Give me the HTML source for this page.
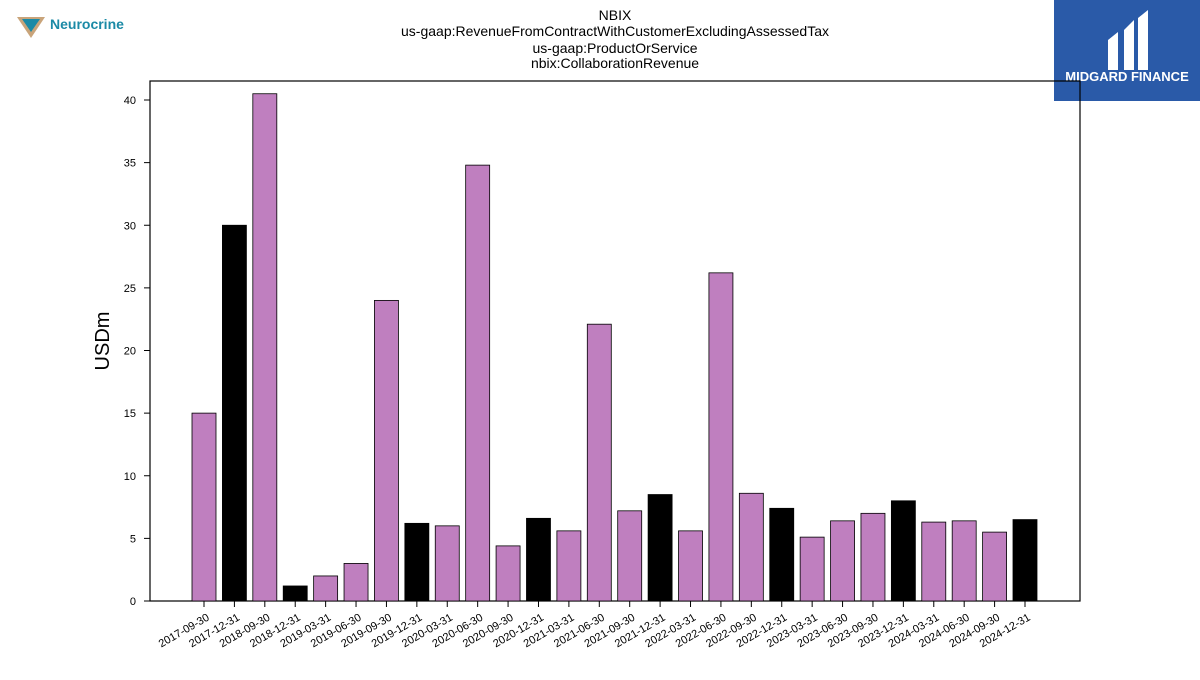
<!DOCTYPE html>
<html><head><meta charset="utf-8"><style>
body{margin:0;background:#fff;width:1200px;height:675px;overflow:hidden;font-family:"Liberation Sans",sans-serif}
</style></head><body>
<svg width="1200" height="675" xmlns="http://www.w3.org/2000/svg">
<g>
<polygon points="17,17 45,17 31,38" fill="#c9a47a"/>
<polygon points="22,19 40,19 31,32" fill="#1b8aa6"/>
<text x="50" y="29" font-size="14" font-weight="bold" fill="#1b8aa6" font-family="Liberation Sans, sans-serif">Neurocrine</text>
</g>
<g font-size="14" text-anchor="middle" fill="#000">
<text x="615" y="20">NBIX</text>
<text x="615" y="36">us-gaap:RevenueFromContractWithCustomerExcludingAssessedTax</text>
<text x="615" y="53">us-gaap:ProductOrService</text>
<text x="615" y="68">nbix:CollaborationRevenue</text>
</g>
<g>
<rect x="1054" y="0" width="146" height="101" fill="#2a5aa8"/>
<path d="M1108,70 L1108,40 L1118,32 L1118,70 Z M1124,70 L1124,30 L1134,20 L1134,70 Z M1138,70 L1138,18 L1148,10 L1148,70 Z" fill="#fff"/>
<text x="1127" y="81" font-size="13" font-weight="bold" fill="#fff" text-anchor="middle">MIDGARD FINANCE</text>
</g>
<rect x="150" y="81" width="930" height="520" fill="none" stroke="#000" stroke-width="1.2"/>
<text x="0" y="0" transform="translate(109,341) rotate(-90)" font-size="20" text-anchor="middle">USDm</text>
<g id="yax"></g><g id="bars"></g><g id="xax"></g>
</svg>
<script>
const categories=["2017-09-30","2017-12-31","2018-09-30","2018-12-31","2019-03-31","2019-06-30","2019-09-30","2019-12-31","2020-03-31","2020-06-30","2020-09-30","2020-12-31","2021-03-31","2021-06-30","2021-09-30","2021-12-31","2022-03-31","2022-06-30","2022-09-30","2022-12-31","2023-03-31","2023-06-30","2023-09-30","2023-12-31","2024-03-31","2024-06-30","2024-09-30","2024-12-31"];
const values=[15,30,40.5,1.2,2,3,24,6.2,6,34.8,4.4,6.6,5.6,22.1,7.2,8.5,5.6,26.2,8.6,7.4,5.1,6.4,7,8,6.3,6.4,5.5,6.5];
const yTicks=[0,5,10,15,20,25,30,35,40];
const NS="http://www.w3.org/2000/svg";
const y=v=>601-v*12.525;
const x=i=>204+i*(1025-204)/(categories.length-1);
const bw=24;
const yax=document.getElementById('yax'),bars=document.getElementById('bars'),xax=document.getElementById('xax');
yTicks.forEach(t=>{
 const l=document.createElementNS(NS,'line');
 
 
 l.setAttribute('x1',144);l.setAttribute('x2',150);l.setAttribute('y1',y(t));l.setAttribute('y2',y(t));l.setAttribute('stroke','#000');
 yax.appendChild(l);
 const tx=document.createElementNS(NS,'text');
 
 
 tx.setAttribute('x',136);tx.setAttribute('y',y(t)+4);tx.setAttribute('font-size','11');tx.setAttribute('text-anchor','end');
 tx.textContent=t;yax.appendChild(tx);
});
categories.forEach((c,i)=>{
 const r=document.createElementNS(NS,'rect');
 
 
 r.setAttribute('x',x(i)-bw/2);r.setAttribute('width',bw);r.setAttribute('y',y(values[i]));r.setAttribute('height',601-y(values[i]));
 r.setAttribute('fill',c.endsWith('12-31')?'#000':'#bf7fbf');r.setAttribute('stroke','#000');r.setAttribute('stroke-width','0.8');
 bars.appendChild(r);
 const l=document.createElementNS(NS,'line');
 
 
 l.setAttribute('x1',x(i));l.setAttribute('x2',x(i));l.setAttribute('y1',601);l.setAttribute('y2',607);l.setAttribute('stroke','#000');
 xax.appendChild(l);
 const tx=document.createElementNS(NS,'text');
 
 
 tx.setAttribute('font-size','11');tx.setAttribute('text-anchor','end');
 tx.setAttribute('transform','translate('+(x(i)+4)+',616) rotate(-30)');
 tx.setAttribute('dy','4');
 tx.textContent=c;xax.appendChild(tx);
});
</script>
</body></html>
